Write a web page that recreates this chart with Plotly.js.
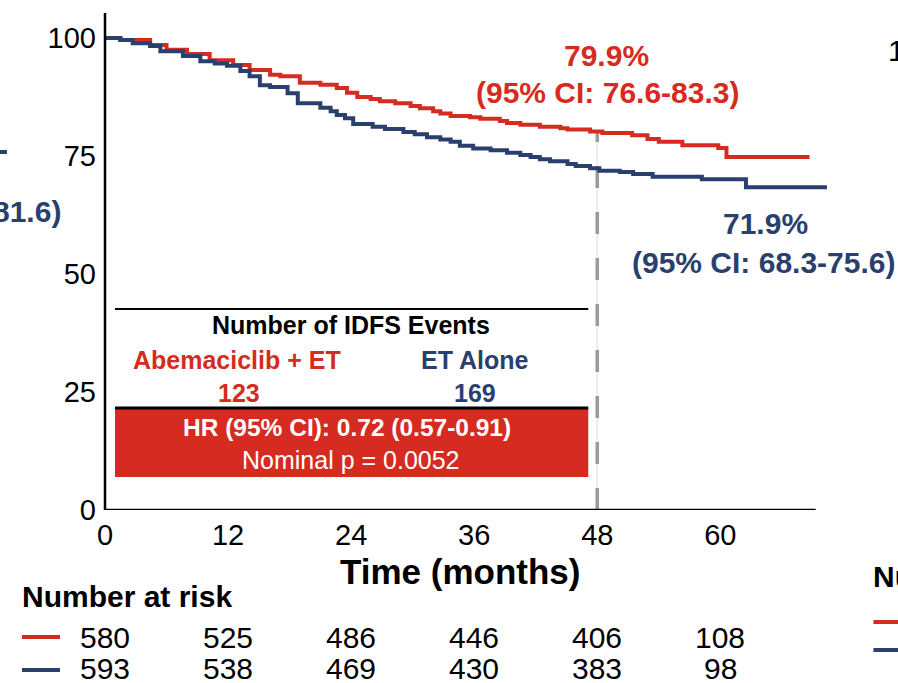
<!DOCTYPE html>
<html>
<head>
<meta charset="utf-8">
<script src="https://cdn.plot.ly/plotly-3.0.1.min.js"></script>
<style>html,body{margin:0;padding:0;background:#fff;}#chart{width:898px;height:683px;}</style>
</head>
<body>
<div id="chart"></div>
<script>
// ---- data ----
const abemaMonths = [0, 1.5, 4.4, 6.0, 8.0, 10.2, 12.5, 14.1, 16.1, 17.1, 19.0, 21.0, 22.6, 23.6, 24.6, 25.9, 26.8, 28.3, 29.8, 30.7, 32.0, 32.7, 33.7, 35.6, 36.6, 38.5, 39.2, 40.5, 42.4, 44.4, 45.1, 47.3, 48.5, 51.4, 52.9, 54.0, 56.3, 59.8, 60.6, 68.7];
const abemaSurv   = [100, 99.6, 98.5, 97.5, 96.6, 95.3, 94.3, 93.2, 92.2, 91.9, 90.5, 90.1, 89.4, 88.4, 87.5, 87.1, 86.6, 86.2, 85.6, 85.1, 84.5, 84.0, 83.5, 83.2, 82.9, 82.4, 82.0, 81.6, 81.2, 80.9, 80.6, 80.2, 79.9, 79.4, 78.6, 78.0, 77.3, 76.7, 74.8, 74.8];
const etMonths = [0, 1.5, 2.7, 4.4, 5.4, 7.6, 9.3, 10.7, 11.9, 13.2, 14.1, 15.1, 16.1, 17.8, 18.8, 21.0, 22.0, 22.6, 23.4, 24.2, 26.1, 27.3, 29.1, 30.2, 31.4, 32.7, 33.7, 34.6, 35.9, 37.6, 39.2, 40.5, 41.5, 42.4, 43.4, 45.1, 45.9, 47.3, 48.2, 50.2, 51.5, 53.4, 58.2, 62.5, 70.4];
const etSurv   = [100, 99.6, 98.9, 98.3, 97.2, 96.2, 95.1, 94.6, 94.1, 93.0, 91.9, 90.0, 89.6, 88.3, 86.2, 85.2, 84.5, 83.7, 83.0, 81.8, 81.2, 80.7, 80.1, 79.6, 79.0, 78.5, 78.0, 77.2, 76.6, 76.2, 75.7, 75.2, 74.8, 74.3, 73.9, 73.3, 72.9, 72.4, 71.9, 71.6, 71.2, 70.6, 70.1, 68.4, 68.4];

const tickMonths = [0, 12, 24, 36, 48, 60];
const yTicks = [0, 25, 50, 75, 100];
const riskAbema = [580, 525, 486, 446, 406, 108];
const riskET = [593, 538, 469, 430, 383, 98];

const landmarkMonth = 48;
const abemaLandmark = 79.9, abemaCI = "76.6-83.3";
const etLandmark = 71.9, etCI = "68.3-75.6";
const eventsAbema = 123, eventsET = 169;
const hrText = "HR (95% CI): 0.72 (0.57-0.91)";
const pText = "Nominal p = 0.0052";
const armNames = ["Abemaciclib + ET", "ET Alone"];

// ---- styling ----
const RED = "#D62B20", NAVY = "#293F6E", GRAY = "#9B9B9B";
const FONT = "Liberation Sans, Arial, Helvetica, sans-serif";
const L = 105, W = 722.6, T = 13, H = 497, XMAX = 70.5, YMAX = 105.3;
const fx = x => (x - L) / W;
const fy = y => (T + H - y) / H;

const traces = [
  {x: [landmarkMonth, landmarkMonth], y: [0, abemaLandmark], mode: "lines",
   line: {color: "#EBEBEB", width: 2}, hoverinfo: "skip"},
  {x: [landmarkMonth, landmarkMonth], y: [0, abemaLandmark], mode: "lines",
   line: {color: GRAY, width: 3.5, dash: "22px,24px"}, hoverinfo: "skip"},
  {x: abemaMonths, y: abemaSurv, mode: "lines", line: {shape: "hv", color: RED, width: 4}, hoverinfo: "skip"},
  {x: etMonths, y: etSurv, mode: "lines", line: {shape: "hv", color: NAVY, width: 4}, hoverinfo: "skip"}
];

function ann(x, y, text, size, color, bold, anchor) {
  return {xref: "paper", yref: "paper", x: fx(x), y: fy(y), text: bold ? "<b>" + text + "</b>" : text,
    showarrow: false, xanchor: anchor || "center", yanchor: "middle",
    font: {family: FONT, size: size, color: color}};
}

const annotations = [
  ann(606, 55, abemaLandmark.toFixed(1) + "%", 30, RED, true),
  ann(607, 92, "(95% CI: " + abemaCI + ")", 30, RED, true),
  ann(765, 223, etLandmark.toFixed(1) + "%", 30, NAVY, true),
  ann(763, 262, "(95% CI: " + etCI + ")", 30, NAVY, true),
  ann(351, 325, "Number of IDFS Events", 25, "#000", true),
  ann(237, 360, armNames[0], 25, RED, true),
  ann(475, 360, armNames[1], 25, NAVY, true),
  ann(239, 393, String(eventsAbema), 25, RED, true),
  ann(475, 393, String(eventsET), 25, NAVY, true),
  ann(347, 427, hrText, 24.5, "#fff", true),
  ann(351, 460, pText, 25, "#fff", false),
  ann(460, 571, "Time (months)", 35, "#000", true),
  ann(20, 596, "Number at risk", 30, "#000", true, "left"),
  // fragments of neighbouring panels
  ann(63, 212, "81.6)", 30, NAVY, true, "right"),
  ann(886, 50, "1", 30, "#000", false, "left"),
  ann(871, 576, "Nu", 30, "#000", true, "left")
];
tickMonths.forEach((m, i) => {
  annotations.push({xref: "x", yref: "paper", x: m, y: fy(637), text: String(riskAbema[i]), showarrow: false,
    xanchor: "center", yanchor: "middle", font: {family: FONT, size: 30, color: "#000"}});
  annotations.push({xref: "x", yref: "paper", x: m, y: fy(668), text: String(riskET[i]), showarrow: false,
    xanchor: "center", yanchor: "middle", font: {family: FONT, size: 30, color: "#000"}});
});

const shapes = [
  // axes
  {type: "line", xref: "paper", yref: "paper", x0: 0, x1: 0, y0: 0, y1: 1, line: {color: "#000", width: 2.5}},
  {type: "line", xref: "x", yref: "y", x0: 0, x1: 69.3, y0: 0, y1: 0, line: {color: "#000", width: 2.5}},
  // events box
  {type: "line", xref: "paper", yref: "paper", x0: fx(115), x1: fx(588), y0: fy(309), y1: fy(309), line: {color: "#000", width: 2}},
  {type: "rect", xref: "paper", yref: "paper", x0: fx(115), x1: fx(588), y0: fy(408), y1: fy(477), fillcolor: RED, line: {width: 0}},
  {type: "line", xref: "paper", yref: "paper", x0: fx(115), x1: fx(588), y0: fy(408), y1: fy(408), line: {color: "#000", width: 3}},
  // risk table legend
  {type: "line", xref: "paper", yref: "paper", x0: fx(22), x1: fx(60), y0: fy(637), y1: fy(637), line: {color: RED, width: 4}},
  {type: "line", xref: "paper", yref: "paper", x0: fx(22), x1: fx(60), y0: fy(670), y1: fy(670), line: {color: NAVY, width: 4}},
  // fragments of neighbouring panels
  {type: "line", xref: "paper", yref: "paper", x0: fx(0), x1: fx(7), y0: fy(152), y1: fy(152), line: {color: NAVY, width: 4}},
  {type: "line", xref: "paper", yref: "paper", x0: fx(873), x1: fx(899), y0: fy(622), y1: fy(622), line: {color: RED, width: 4}},
  {type: "line", xref: "paper", yref: "paper", x0: fx(873), x1: fx(899), y0: fy(650), y1: fy(650), line: {color: NAVY, width: 4}}
];

const layout = {
  width: 898, height: 683,
  margin: {l: L, r: 898 - L - W, t: T, b: 683 - T - H, pad: 0},
  paper_bgcolor: "#fff", plot_bgcolor: "#fff",
  showlegend: false,
  xaxis: {range: [0, XMAX], tickvals: tickMonths, ticktext: tickMonths.map(String), showgrid: false, zeroline: false,
    showline: false, ticks: "", ticklabelstandoff: 5, tickfont: {family: FONT, size: 29, color: "#000"}, fixedrange: true},
  yaxis: {range: [0, YMAX], tickvals: yTicks, ticktext: yTicks.map(String), showgrid: false, zeroline: false,
    showline: false, ticks: "", ticklabelstandoff: 8, tickfont: {family: FONT, size: 29, color: "#000"}, fixedrange: true},
  annotations: annotations,
  shapes: shapes
};

Plotly.newPlot("chart", traces, layout, {displayModeBar: false, staticPlot: true});
</script>
</body>
</html>
